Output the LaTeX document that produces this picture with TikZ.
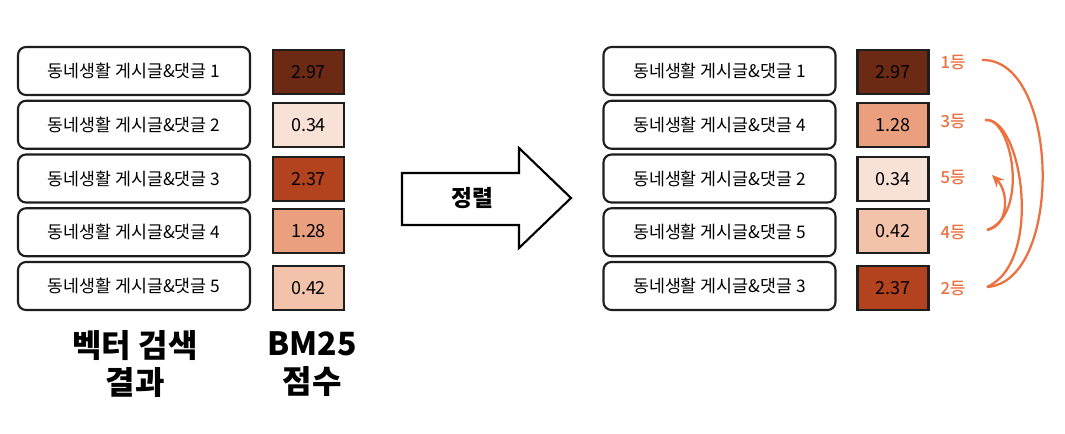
\documentclass[tikz,border=0pt]{standalone}
\usepackage{fontspec}
\setmainfont{Noto Sans CJK KR}
\newfontfamily\heavyfont{Noto Sans CJK KR Black}
\newfontfamily\medfont{Noto Sans CJK KR Medium}
\usetikzlibrary{arrows.meta}
\definecolor{sA}{HTML}{6C2A15}
\definecolor{sB}{HTML}{B3421E}
\definecolor{sC}{HTML}{EAA07F}
\definecolor{sD}{HTML}{F2C3AA}
\definecolor{sE}{HTML}{F8E1D6}
\definecolor{rankc}{HTML}{EC7040}
\definecolor{edge}{HTML}{1E1E1E}
\tikzset{
  postbox/.style={draw=edge, line width=1.6pt, rounded corners=6pt, fill=white,
    minimum width=174pt, minimum height=36pt, inner sep=0pt,
    font=\fontsize{13}{15}\selectfont},
  scorebox/.style={draw=edge, line width=1.8pt, minimum width=53pt, minimum height=33pt,
    inner sep=0pt, font=\fontsize{13.5}{15}\selectfont},
  ranklbl/.style={text=rankc, inner sep=0pt, font=\medfont\fontsize{12.5}{14}\selectfont},
  rankarc/.style={draw=rankc, line width=1.7pt},
  title/.style={align=center, font=\heavyfont\fontsize{24}{28}\selectfont}
}
\begin{document}
\begin{tikzpicture}[x=0.75pt,y=-0.75pt]
\useasboundingbox (0,0) rectangle (1065,433);
% left column
\node[postbox] (l1) at (134,71) {동네생활 게시글\&댓글 1};
\node[postbox] (l2) at (134,124.75) {동네생활 게시글\&댓글 2};
\node[postbox] (l3) at (134,178.5) {동네생활 게시글\&댓글 3};
\node[postbox] (l4) at (134,232.25) {동네생활 게시글\&댓글 4};
\node[postbox] (l5) at (134,286) {동네생활 게시글\&댓글 5};
\node[scorebox, fill=sA] (s1) at (308.5,72) {2.97};
\node[scorebox, fill=sE] (s2) at (308.5,125) {0.34};
\node[scorebox, fill=sB] (s3) at (308.5,179) {2.37};
\node[scorebox, fill=sC] (s4) at (308.5,231) {1.28};
\node[scorebox, fill=sD] (s5) at (308.5,288) {0.42};
\node[title] (t1) at (135,364) {벡터 검색\\결과};
\node[title] (t2) at (312,364) {BM25\\점수};
% block arrow
\draw[line width=1.6pt, line join=miter, fill=white] (402,173) -- (519,173) -- (519,148) -- (571,198) -- (519,248) -- (519,225) -- (402,225) -- cycle;
\node[font=\heavyfont\fontsize{17}{19}\selectfont] (sortlbl) at (472,198) {정렬};
% right column
\node[postbox] (r1) at (719.5,71) {동네생활 게시글\&댓글 1};
\node[postbox] (r2) at (719.5,124.75) {동네생활 게시글\&댓글 4};
\node[postbox] (r3) at (719.5,178.5) {동네생활 게시글\&댓글 2};
\node[postbox] (r4) at (719.5,232.25) {동네생활 게시글\&댓글 5};
\node[postbox] (r5) at (719.5,286) {동네생활 게시글\&댓글 3};
\node[scorebox, fill=sA] (q1) at (893,72) {2.97};
\node[scorebox, fill=sC] (q2) at (893,125) {1.28};
\node[scorebox, fill=sE] (q3) at (893,179) {0.34};
\node[scorebox, fill=sD] (q4) at (893,231) {0.42};
\node[scorebox, fill=sB] (q5) at (893,288) {2.37};
% ranks
\node[ranklbl] (k1) at (953,62.5) {1등};
\node[ranklbl] (k3) at (953,121.5) {3등};
\node[ranklbl] (k5) at (953,178) {5등};
\node[ranklbl] (k4) at (953,233) {4등};
\node[ranklbl] (k2) at (953,289) {2등};
\coordinate (a1) at (982,60);
\coordinate (a3) at (985,120);
\coordinate (a4) at (987,230);
\coordinate (a2) at (987,287);
\coordinate (a5) at (992,175);
\draw[rankarc] (a1) .. controls (1060,58) and (1064,282) .. (a2);
\draw[rankarc] (a3) .. controls (1022,116) and (1044,262) .. (a2);
\draw[rankarc] (a3) .. controls (1012,116) and (1030,215) .. (a4);
\draw[rankarc, -{Stealth[length=9pt,width=8pt]}] (a4) .. controls (1009,226) and (1009,192) .. (a5);
\end{tikzpicture}
\end{document}
